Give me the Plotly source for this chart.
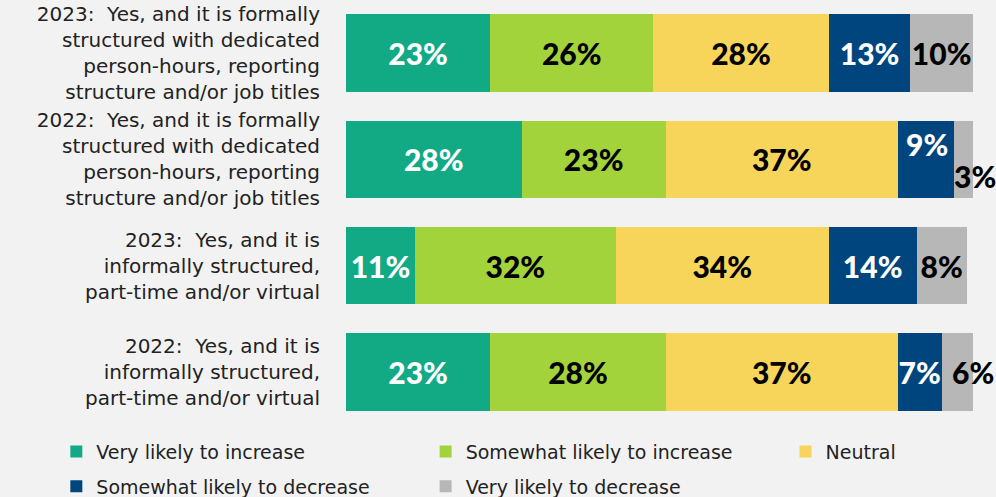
import plotly.graph_objects as go

categories = [
    "2023:  Yes, and it is formally<br>structured with dedicated<br>person-hours, reporting<br>structure and/or job titles",
    "2022:  Yes, and it is formally<br>structured with dedicated<br>person-hours, reporting<br>structure and/or job titles",
    "2023:  Yes, and it is<br>informally structured,<br>part-time and/or virtual",
    "2022:  Yes, and it is<br>informally structured,<br>part-time and/or virtual",
]
series_names = [
    "Very likely to increase",
    "Somewhat likely to increase",
    "Neutral",
    "Somewhat likely to decrease",
    "Very likely to decrease",
]
very_inc = [23, 28, 11, 23]
some_inc = [26, 23, 32, 28]
neutral = [28, 37, 34, 37]
some_dec = [13, 9, 14, 7]
very_dec = [10, 3, 8, 6]

colors = ["#12a985", "#a3d33b", "#f7d55b", "#00457e", "#b7b7b7"]
text_colors = ["white", "black", "black", "white", "black"]

all_series = [very_inc, some_inc, neutral, some_dec, very_dec]

# labels placed off-centre in the original (series index, category index) -> (xshift, yshift)
moved_labels = {(3, 1): (1, 15), (4, 1): (11, -17), (4, 3): (13, 0)}

legend_ids = ["legend", "legend2", "legend3", "legend", "legend2"]
LABEL_FONT = dict(family="Lato", size=30, weight=900)

fig = go.Figure()
cum = [0] * len(categories)
for si, (name, vals, col, tc) in enumerate(zip(series_names, all_series, colors, text_colors)):
    texts = []
    for ci, v in enumerate(vals):
        if (si, ci) in moved_labels:
            texts.append("")
            xs, ys = moved_labels[(si, ci)]
            fig.add_annotation(x=cum[ci] + v / 2, y=categories[ci], text=f"{v}%",
                               showarrow=False, xshift=xs, yshift=ys,
                               font=dict(color=tc, **LABEL_FONT))
        else:
            texts.append(f"{v}%")
    fig.add_trace(go.Bar(
        y=categories, x=vals, name=name, orientation="h",
        marker=dict(color=col, line=dict(width=0)),
        text=texts,
        textposition="inside", insidetextanchor="middle",
        textangle=0, constraintext="none",
        textfont=dict(color=tc, **LABEL_FONT),
        hoverinfo="skip", legend=legend_ids[si], legendgroup=name,
    ))
    cum = [c + v for c, v in zip(cum, vals)]

leg_common = dict(orientation="v", yanchor="top", y=-0.018, xanchor="left",
                  font=dict(family="DejaVu Sans", size=19, color="#222222"),
                  traceorder="grouped", itemwidth=30, tracegroupgap=7,
                  bgcolor="rgba(0,0,0,0)")

fig.update_layout(
    width=996, height=497,
    barmode="stack", bargap=0.27,
    paper_bgcolor="#f2f2f2", plot_bgcolor="#f2f2f2",
    margin=dict(l=346, r=23, t=0, b=72, autoexpand=False),
    xaxis=dict(range=[0, 100], visible=False, fixedrange=True),
    yaxis=dict(autorange="reversed", showgrid=False, zeroline=False, automargin=False,
               tickfont=dict(family="DejaVu Sans", size=20, color="#222222"),
               ticks="", ticklabelstandoff=25, fixedrange=True),
    showlegend=True,
    legend=dict(x=-0.462, **leg_common),
    legend2=dict(x=0.127, **leg_common),
    legend3=dict(x=0.701, **leg_common),
    font=dict(family="DejaVu Sans"),
)

fig.write_html(
    "out.html",
    config={"displayModeBar": False, "staticPlot": True},
    post_script="document.body.style.margin='0';document.body.style.background='#f2f2f2';",
)
